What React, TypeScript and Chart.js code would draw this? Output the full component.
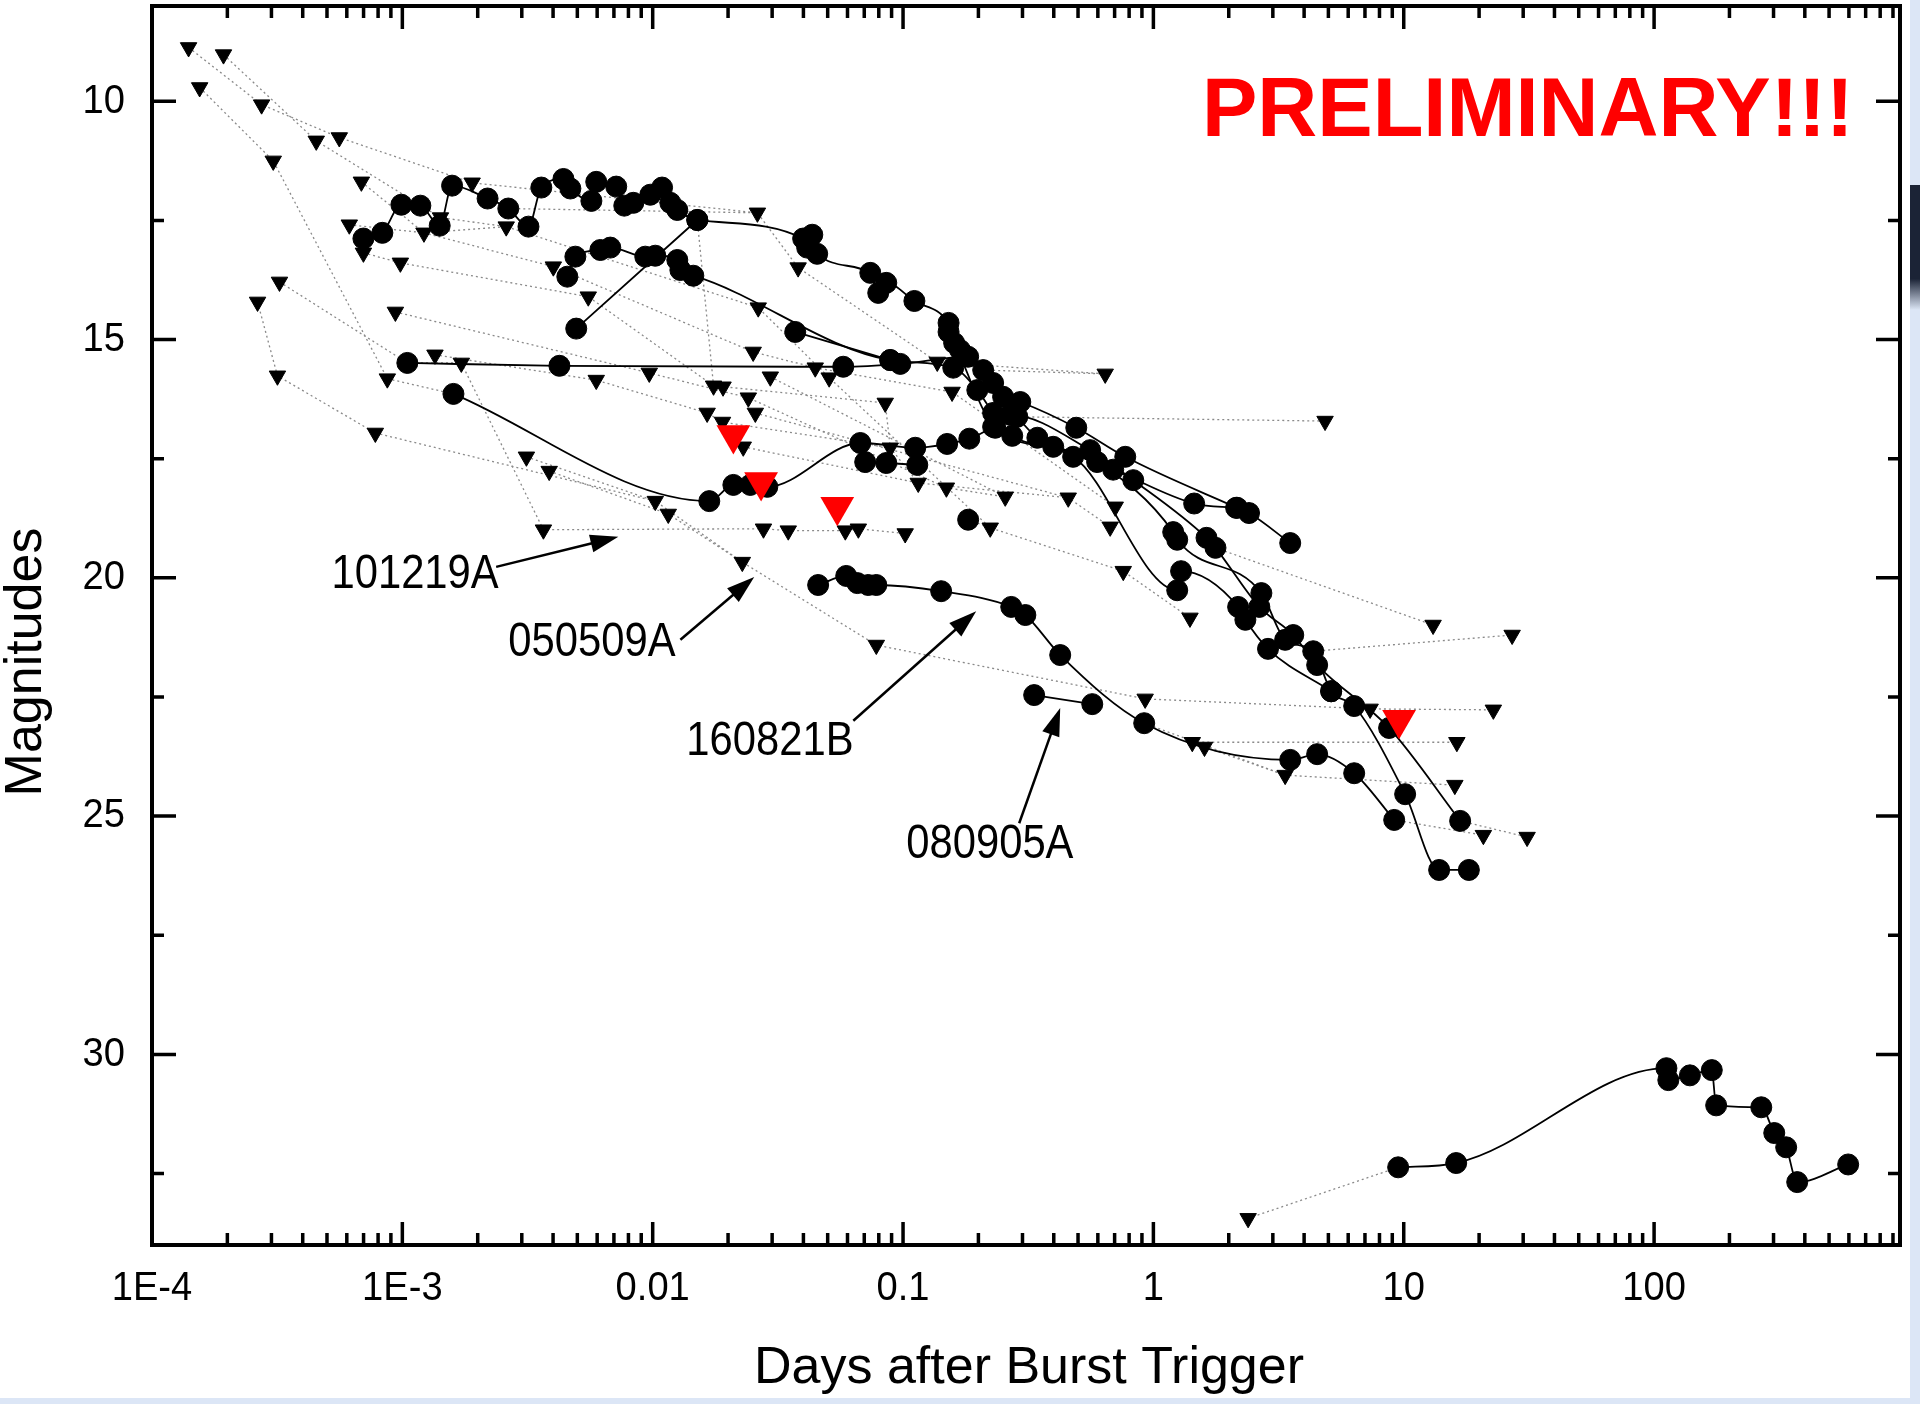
import React, { useEffect, useRef } from 'react';
import { Chart, registerables } from 'chart.js';

Chart.register(...registerables);

type Pt = [number, number]; // [days after trigger, magnitude]

// ---------- axis ticks ----------
const xTickValues = [1e-4, 1e-3, 0.01, 0.1, 1, 10, 100];
const xTickLabels = ['1E-4', '1E-3', '0.01', '0.1', '1', '10', '100'];
const xMinorMultipliers = [2, 3, 4, 5, 6, 7, 8, 9];
const yTickValues = [10, 15, 20, 25, 30];
const yMinorTickValues = [12.5, 17.5, 22.5, 27.5, 32.5];

// ---------- detections (filled circles, solid lines) ----------
const grbA: Pt[] = [
  [6.99e-4, 12.88], [8.32e-4, 12.76], [9.91e-4, 12.17], [1.18e-3, 12.19], [1.41e-3, 12.61],
  [1.58e-3, 11.77], [2.19e-3, 12.04], [2.65e-3, 12.25], [3.19e-3, 12.63], [3.59e-3, 11.81],
  [4.40e-3, 11.63], [4.69e-3, 11.83], [5.69e-3, 12.09], [5.95e-3, 11.69], [7.15e-3, 11.79],
  [7.70e-3, 12.19], [8.37e-3, 12.13], [9.78e-3, 11.96], [0.0109, 11.81], [0.01176, 12.13],
  [0.01254, 12.28], [0.01507, 12.49], [0.0399, 12.88], [0.0414, 13.07], [0.0434, 12.80],
  [0.0454, 13.20], [0.074, 13.60], [0.0796, 14.02], [0.0857, 13.81], [0.111, 14.19],
  [0.152, 14.65], [0.169, 15.22], [0.209, 15.64], [0.251, 16.20], [0.294, 16.31],
  [0.492, 16.85], [0.772, 17.46], [2.16, 18.53], [2.41, 18.64], [3.52, 19.27],
];
const grbB: Pt[] = [
  [4.56e-3, 13.68], [4.91e-3, 13.26], [6.18e-3, 13.12], [6.77e-3, 13.07], [9.34e-3, 13.26],
  [0.01024, 13.24], [0.01254, 13.33], [0.0129, 13.54], [0.01453, 13.66], [0.0889, 15.43],
  [0.1587, 15.59], [0.198, 16.06], [0.229, 16.54], [0.273, 17.02], [0.398, 17.25],
  [0.691, 17.73], [1.455, 18.44], [2.14, 18.53],
];
const grbC: Pt[] = [[4.95e-3, 14.77], [0.01507, 12.49]];
const grbD: Pt[] = [
  [1.047e-3, 15.49], [4.24e-3, 15.55], [0.0577, 15.57], [0.0975, 15.51], [0.182, 15.36],
  [0.229, 15.91], [0.286, 16.62], [0.344, 17.06], [0.596, 17.57], [1.2, 19.04],
  [1.245, 19.2], [2.7, 20.32], [3.36, 21.3], [4.35, 21.54], [5.13, 22.38],
  [6.34, 22.69], [10.13, 24.54], [13.85, 26.13], [18.2, 26.13],
];
const grbE: Pt[] = [
  [1.6e-3, 16.14], [0.01683, 18.39], [0.021, 18.05], [0.02454, 18.05], [0.0287, 18.09],
  [0.0675, 17.17], [0.1119, 17.27], [0.15, 17.19], [0.184, 17.08], [0.229, 16.83],
  [0.268, 16.58], [0.559, 17.32], [0.831, 17.95], [1.63, 19.16], [1.77, 19.37],
  [2.65, 20.61], [3.62, 21.2], [4.51, 21.83], [8.74, 23.15], [16.8, 25.1],
];
const grbE2: Pt[] = [[0.0706, 17.57], [0.0857, 17.59], [0.114, 17.63]];
const grbF: Pt[] = [[0.0371, 14.84], [0.0889, 15.43]];
const grbH: Pt[] = [
  [0.152, 14.84], [0.16, 15.07], [0.2335, 16.85], [0.478, 17.46], [1.245, 20.26],
  [1.29, 19.86], [2.18, 20.61], [2.33, 20.88], [2.87, 21.49], [5.13, 22.38],
];
const loneDetection: Pt[] = [[0.182, 18.78]];
const grb160821B: Pt[] = [
  [0.0458, 20.15], [0.0593, 19.96], [0.0657, 20.11], [0.0726, 20.15], [0.0782, 20.15],
  [0.142, 20.28], [0.2705, 20.61], [0.308, 20.78], [0.4244, 21.62], [0.919, 23.05],
  [3.52, 23.82], [4.51, 23.7], [6.34, 24.1], [9.16, 25.08],
];
const grb080905A: Pt[] = [[0.334, 22.46], [0.57, 22.65]];
const grbLate: Pt[] = [
  [9.5, 32.37], [16.2, 32.28], [112, 30.29], [114, 30.54], [139, 30.44], [170, 30.33],
  [177, 31.07], [268, 31.11], [302, 31.65], [337, 31.95], [373, 32.68], [596, 32.31],
];

// ---------- upper limits (black triangles) ----------
const upperLimits: Pt[] = [
  [1.4e-4, 8.87], [1.93e-4, 9.02], [1.55e-4, 9.71], [2.74e-4, 10.07], [4.53e-4, 10.83],
  [5.6e-4, 10.76], [3.05e-4, 11.25], [6.86e-4, 11.69], [1.9e-3, 11.71], [6.14e-4, 12.59],
  [1.22e-3, 12.76], [1.42e-3, 12.44], [6.99e-4, 13.18], [9.82e-4, 13.39], [2.6e-3, 12.63],
  [4.01e-3, 13.47], [5.53e-3, 14.1], [3.23e-4, 13.79], [2.64e-4, 14.21], [9.38e-4, 14.42],
  [1.35e-3, 15.32], [1.72e-3, 15.49], [5.95e-3, 15.85], [3.17e-4, 15.76], [8.71e-4, 15.82],
  [7.8e-4, 16.96], [3.13e-3, 17.46], [3.86e-3, 17.76], [0.0262, 12.34], [0.0381, 13.49],
  [0.0264, 14.33], [0.00969, 15.7], [0.0252, 15.26], [0.0295, 15.78], [0.0446, 15.59],
  [0.0175, 15.97], [0.0191, 15.99], [0.0241, 16.22], [0.0165, 16.54], [0.0257, 16.54],
  [0.019, 16.73], [0.023, 17.25], [0.01024, 18.39], [0.01154, 18.66], [3.66e-3, 18.99],
  [0.0277, 18.97], [0.0348, 19.01], [0.0507, 15.8], [0.137, 15.47], [0.157, 16.1],
  [0.0849, 16.33], [0.642, 15.72], [0.0889, 17.27], [0.115, 18.01], [0.149, 18.11],
  [0.256, 18.3], [0.457, 18.32], [0.704, 18.51], [0.672, 18.93], [0.223, 18.95],
  [0.0588, 19.01], [0.0663, 18.97], [0.102, 19.07], [0.0228, 19.67], [0.0782, 21.41],
  [4.85, 16.71], [0.758, 19.86], [1.4, 20.84], [13.1, 20.99], [27.1, 21.2],
  [0.927, 22.54], [7.34, 22.75], [22.8, 22.77], [1.43, 23.45], [1.6, 23.55],
  [16.3, 23.45], [3.36, 24.14], [16.0, 24.35], [20.8, 25.4], [31.1, 25.44],
  [2.39, 33.44],
];

// ---------- highlighted upper limits (red triangles) ----------
const redLimits: Pt[] = [[0.021, 17.0], [0.0271, 17.99], [0.0546, 18.51], [9.58, 22.98]];

// ---------- dotted links between limits / detections ----------
const limitChains: Pt[][] = [
  [[1.4e-4, 8.87], [2.74e-4, 10.07], [5.6e-4, 10.76], [1.9e-3, 11.71], [0.0262, 12.34], [0.0381, 13.49], [0.137, 15.47], [0.642, 15.72]],
  [[1.93e-4, 9.02], [4.53e-4, 10.83], [1.42e-3, 12.44], [2.6e-3, 12.63], [0.0264, 14.33], [0.0507, 15.8], [0.223, 18.95], [0.758, 19.86], [1.4, 20.84]],
  [[1.55e-4, 9.71], [3.05e-4, 11.25], [8.71e-4, 15.82], [1.6e-3, 16.14]],
  [[2.64e-4, 14.21], [3.17e-4, 15.76], [7.8e-4, 16.96], [0.01024, 18.39], [0.0228, 19.67], [0.0782, 21.41], [0.927, 22.54], [7.34, 22.75], [22.8, 22.77]],
  [[3.23e-4, 13.79], [1.047e-3, 15.49], [1.72e-3, 15.49], [3.66e-3, 18.99], [0.0277, 18.97], [0.0348, 19.01], [0.0588, 19.01], [0.0663, 18.97], [0.102, 19.07]],
  [[6.14e-4, 12.59], [1.22e-3, 12.76], [4.01e-3, 13.47], [0.0252, 15.26], [0.0446, 15.59], [0.157, 16.1], [0.704, 18.51]],
  [[6.99e-4, 13.18], [9.82e-4, 13.39], [5.53e-3, 14.1], [0.0175, 15.97], [0.0191, 15.99], [0.0849, 16.33], [0.0889, 17.27], [0.115, 18.01], [0.457, 18.32], [0.672, 18.93]],
  [[9.38e-4, 14.42], [0.00969, 15.7], [0.0241, 16.22], [0.149, 18.11], [0.256, 18.3]],
  [[1.35e-3, 15.32], [5.95e-3, 15.85], [0.0165, 16.54], [0.019, 16.73], [0.0889, 17.27]],
  [[3.13e-3, 17.46], [0.01024, 18.39]],
  [[3.86e-3, 17.76], [0.01154, 18.66], [0.0228, 19.67]],
  [[0.01507, 12.49], [0.0175, 15.97]],
  [[0.286, 16.62], [4.85, 16.71]],
  [[0.209, 15.64], [0.642, 15.72]],
  [[1.43, 23.45], [16.3, 23.45]],
  [[1.6, 23.55], [3.36, 24.14], [16.0, 24.35]],
  [[1.77, 19.37], [13.1, 20.99]],
  [[4.35, 21.54], [27.1, 21.2]],
  [[16.8, 25.1], [31.1, 25.44]],
  [[9.16, 25.08], [20.8, 25.4]],
  [[2.39, 33.44], [9.5, 32.37]],
  [[0.919, 23.05], [3.36, 24.14]],
  [[0.182, 18.78], [0.223, 18.95]],
  [[6.86e-4, 11.69], [1.22e-3, 12.76], [2.6e-3, 12.63]],
  [[0.0295, 15.78], [0.256, 18.3]],
  [[0.0257, 16.54], [0.457, 18.32]],
  [[0.023, 17.25], [0.115, 18.01]],
  [[2.65e-3, 12.25], [0.0262, 12.34]],
];

// ---------- annotations ----------
const annotationLabels = ['101219A', '050509A', '160821B', '080905A'];
const annotationTextAt: Pt[] = [[5.21e-4, 19.94], [2.65e-3, 21.37], [0.01362, 23.43], [0.103, 25.61]];
const arrowFrom: Pt[] = [[2.37e-3, 19.77], [0.0129, 21.3], [0.0633, 23.0], [0.291, 25.15]];
const arrowTo: Pt[] = [[7.29e-3, 19.14], [0.02545, 19.98], [0.196, 20.7], [0.4244, 22.73]];
const stampText = 'PRELIMINARY!!!';
const xTitle = 'Days after Burst Trigger';
const yTitle = 'Magnitudes';

const FONT = '"Liberation Sans", Arial, Helvetica, sans-serif';
const toXY = (arr: Pt[]) => arr.map(([x, y]) => ({ x, y }));

function drawArrow(ctx: CanvasRenderingContext2D, x1: number, y1: number, x2: number, y2: number) {
  const ang = Math.atan2(y2 - y1, x2 - x1);
  const headLen = 28;
  const headHalf = 9;
  const bx = x2 - headLen * Math.cos(ang);
  const by = y2 - headLen * Math.sin(ang);
  ctx.beginPath();
  ctx.moveTo(x1, y1);
  ctx.lineTo(bx + 2 * Math.cos(ang), by + 2 * Math.sin(ang));
  ctx.stroke();
  ctx.beginPath();
  ctx.moveTo(x2, y2);
  ctx.lineTo(bx + headHalf * Math.sin(ang), by - headHalf * Math.cos(ang));
  ctx.lineTo(bx - headHalf * Math.sin(ang), by + headHalf * Math.cos(ang));
  ctx.closePath();
  ctx.fill();
}

function squeezedText(ctx: CanvasRenderingContext2D, text: string, x: number, y: number, sx: number) {
  ctx.save();
  ctx.translate(x, y);
  ctx.scale(sx, 1);
  ctx.fillText(text, 0, 0);
  ctx.restore();
}

const decorPlugin = {
  id: 'decor',
  beforeDraw(chart: any) {
    const { ctx, width, height } = chart;
    ctx.save();
    ctx.fillStyle = '#ffffff';
    ctx.fillRect(0, 0, width, height);
    // screenshot edge strips
    ctx.fillStyle = '#dce6f6';
    ctx.fillRect(width - 10, 0, 10, height);
    ctx.fillRect(0, height - 6, width, 6);
    const g = ctx.createLinearGradient(0, 185, 0, 310);
    g.addColorStop(0, '#1b2336');
    g.addColorStop(0.75, '#1b2336');
    g.addColorStop(1, '#dce6f6');
    ctx.fillStyle = g;
    ctx.fillRect(width - 10, 185, 10, 125);
    ctx.restore();
  },
  afterDraw(chart: any) {
    const { ctx, chartArea: a, scales } = chart;
    const xs = scales.x;
    const ys = scales.y;
    ctx.save();
    ctx.strokeStyle = '#000';
    ctx.fillStyle = '#000';
    ctx.lineCap = 'butt';

    // frame
    ctx.lineWidth = 4;
    ctx.strokeRect(a.left, a.top, a.right - a.left, a.bottom - a.top);

    // x ticks (bottom and top, pointing inwards)
    ctx.lineWidth = 3.5;
    const xTick = (v: number, len: number) => {
      const px = xs.getPixelForValue(v);
      if (px < a.left - 1 || px > a.right + 1) return;
      ctx.beginPath();
      ctx.moveTo(px, a.bottom);
      ctx.lineTo(px, a.bottom - len);
      ctx.moveTo(px, a.top);
      ctx.lineTo(px, a.top + len);
      ctx.stroke();
    };
    xTickValues.forEach((v) => {
      xTick(v, 23);
      xMinorMultipliers.forEach((m) => {
        if (v * m <= xs.max) xTick(v * m, 12);
      });
    });

    // y ticks (left and right, pointing inwards)
    const yTick = (v: number, len: number) => {
      const py = ys.getPixelForValue(v);
      ctx.beginPath();
      ctx.moveTo(a.left, py);
      ctx.lineTo(a.left + len, py);
      ctx.moveTo(a.right, py);
      ctx.lineTo(a.right - len, py);
      ctx.stroke();
    };
    yTickValues.forEach((v) => yTick(v, 24));
    yMinorTickValues.forEach((v) => yTick(v, 12));

    // tick labels
    ctx.font = `41px ${FONT}`;
    ctx.textAlign = 'center';
    ctx.textBaseline = 'middle';
    xTickValues.forEach((v, i) => {
      squeezedText(ctx, xTickLabels[i], xs.getPixelForValue(v), a.bottom + 44, 0.93);
    });
    ctx.textAlign = 'right';
    yTickValues.forEach((v) => {
      squeezedText(ctx, String(v), a.left - 27, ys.getPixelForValue(v), 0.93);
    });

    // axis titles
    ctx.font = `52px ${FONT}`;
    ctx.textAlign = 'center';
    ctx.fillText(xTitle, (a.left + a.right) / 2 + 3, 1369);
    ctx.save();
    ctx.translate(27, 662);
    ctx.rotate(-Math.PI / 2);
    ctx.fillText(yTitle, 0, 0);
    ctx.restore();

    // GRB annotations with arrows
    ctx.font = `48px ${FONT}`;
    ctx.textAlign = 'left';
    ctx.lineWidth = 2.5;
    annotationLabels.forEach((label, i) => {
      squeezedText(ctx, label, xs.getPixelForValue(annotationTextAt[i][0]), ys.getPixelForValue(annotationTextAt[i][1]), 0.87);
      drawArrow(
        ctx,
        xs.getPixelForValue(arrowFrom[i][0]), ys.getPixelForValue(arrowFrom[i][1]),
        xs.getPixelForValue(arrowTo[i][0]), ys.getPixelForValue(arrowTo[i][1]),
      );
    });

    // stamp
    ctx.font = `bold 83px ${FONT}`;
    ctx.fillStyle = '#ff0000';
    ctx.textAlign = 'left';
    ctx.textBaseline = 'alphabetic';
    ctx.fillText(stampText, a.left + 1050, 136);
    ctx.restore();
  },
};

const detectionSeries: Pt[][] = [
  grbA, grbB, grbC, grbD, grbE, grbE2, grbF, grbH, loneDetection, grb160821B, grb080905A, grbLate,
];

export default function App() {
  const ref = useRef<HTMLCanvasElement>(null);
  useEffect(() => {
    if (!ref.current) return;
    const datasets: any[] = [
      {
        data: toXY(redLimits),
        showLine: false,
        pointStyle: 'triangle',
        pointRotation: 180,
        pointRadius: 19.5,
        pointBackgroundColor: '#ff0000',
        pointBorderColor: '#ff0000',
        pointBorderWidth: 0,
        order: 0,
      },
      {
        data: toXY(upperLimits),
        showLine: false,
        pointStyle: 'triangle',
        pointRotation: 180,
        pointRadius: 9.5,
        pointBackgroundColor: '#000',
        pointBorderColor: '#000',
        pointBorderWidth: 1,
        order: 1,
      },
      ...detectionSeries.map((s) => ({
        data: toXY(s),
        showLine: true,
        borderColor: '#000',
        borderWidth: 1.8,
        cubicInterpolationMode: 'monotone',
        pointStyle: 'circle',
        pointRadius: 10.5,
        pointBackgroundColor: '#000',
        pointBorderColor: '#000',
        pointBorderWidth: 1,
        order: 2,
      })),
      ...limitChains.map((c) => ({
        data: toXY(c),
        showLine: true,
        borderColor: '#8a8a8a',
        borderWidth: 1.3,
        borderDash: [2, 3],
        pointRadius: 0,
        tension: 0,
        order: 3,
      })),
    ];
    const chart = new Chart(ref.current, {
      type: 'scatter',
      data: { datasets },
      options: {
        responsive: false,
        animation: false,
        devicePixelRatio: 1,
        events: [],
        layout: { autoPadding: false, padding: { left: 152, right: 20, top: 6, bottom: 159 } },
        scales: {
          x: { type: 'logarithmic', min: 1e-4, max: 960, display: false },
          y: { type: 'linear', min: 8, max: 34, reverse: true, display: false },
        },
        plugins: { legend: { display: false }, tooltip: { enabled: false } },
      } as any,
      plugins: [decorPlugin],
    });
    return () => chart.destroy();
  }, []);
  return (
    <div style={{ position: 'absolute', left: 0, top: 0, width: 1920, height: 1404, background: '#fff' }}>
      <canvas ref={ref} width={1920} height={1404} style={{ display: 'block', width: 1920, height: 1404 }} />
    </div>
  );
}
